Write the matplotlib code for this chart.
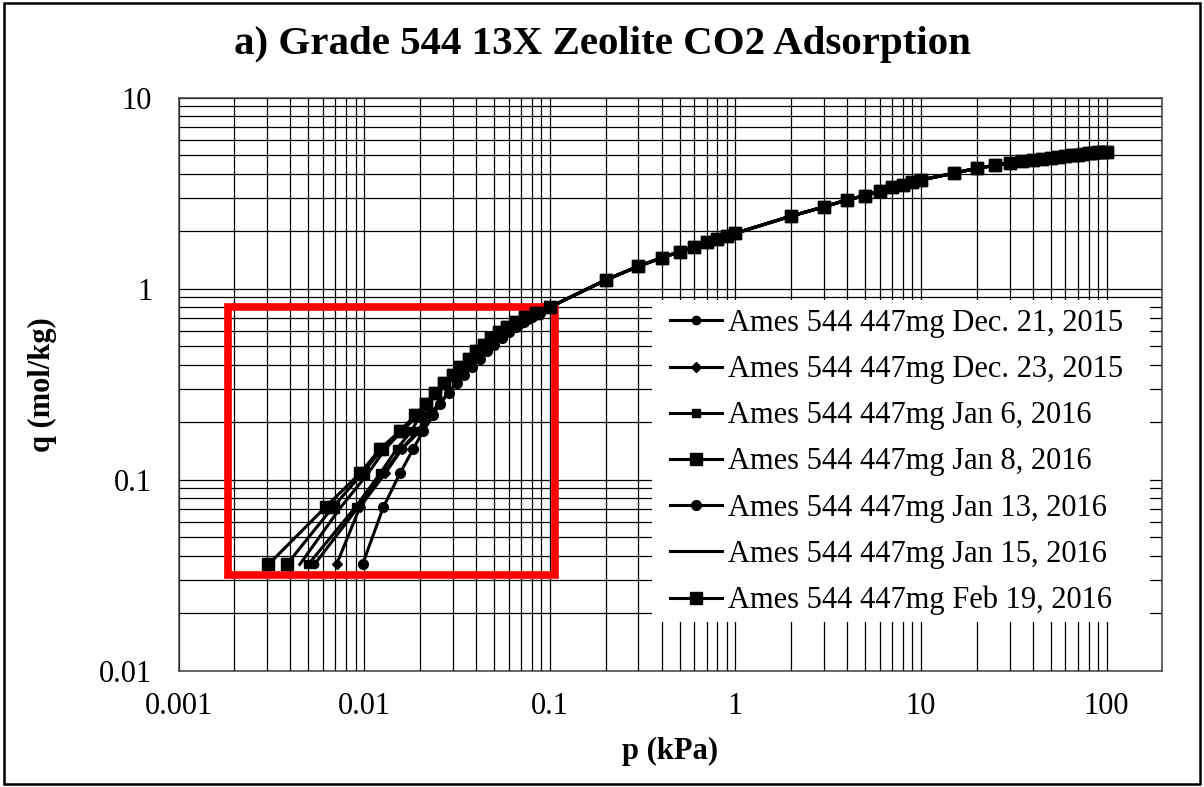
import matplotlib
matplotlib.use("Agg")
import matplotlib.pyplot as plt
from matplotlib.patches import Rectangle
from matplotlib.ticker import FuncFormatter, NullFormatter

plt.rcParams['font.family'] = ['Liberation Serif', 'DejaVu Serif']

# middle part, where the runs nearly overlap (kPa, mol/kg)
q_mid = [0.25, 0.285, 0.32, 0.355, 0.39, 0.43, 0.47, 0.51, 0.55, 0.59, 0.63, 0.67, 0.71, 0.75]
p_mid_a = [0.0215, 0.024, 0.027, 0.030, 0.033, 0.0365, 0.040, 0.044, 0.048, 0.053, 0.059, 0.066, 0.074, 0.084]
p_mid_b = [0.0255, 0.0285, 0.0315, 0.0345, 0.038, 0.042, 0.046, 0.050, 0.055, 0.060, 0.066, 0.073, 0.080, 0.089]

# high pressure part shared by every run
p_tail = [0.1, 0.2, 0.3, 0.4, 0.5, 0.6, 0.7, 0.8, 0.9, 1, 2, 3, 4, 5, 6, 7, 8, 9, 10,
          15, 20, 25, 30, 35, 40, 45, 50, 55, 60, 65, 70, 75, 80, 85, 90, 95, 100]
q_tail = [0.80, 1.11, 1.31, 1.45, 1.56, 1.66, 1.75, 1.83, 1.89, 1.95, 2.40, 2.68, 2.92, 3.07,
          3.25, 3.40, 3.51, 3.61, 3.71, 4.02, 4.27, 4.42, 4.55, 4.64, 4.72, 4.79, 4.85, 4.90,
          4.95, 5.00, 5.04, 5.08, 5.11, 5.14, 5.17, 5.20, 5.22]

# low pressure start of each run
q_low = [0.036, 0.072, 0.108, 0.145, 0.18, 0.217]
p_dec21 = [0.0054, 0.0093, 0.0127, 0.0159, 0.0195, 0.0220]
p_dec23 = [0.0071, 0.0095, 0.0130, 0.0160, 0.0200, 0.0225]
p_jan6 = [0.0050, 0.0090, 0.0122, 0.0150, 0.0180, 0.0200]
p_jan8 = [0.00383, 0.0068, 0.0098, 0.0125, 0.0158, 0.0190]
p_jan13 = [0.0098, 0.0127, 0.0156, 0.0184, 0.0208, 0.0236]
p_jan15 = [0.0045, 0.0075, 0.0105, 0.0130, 0.0160, 0.0195]
p_feb19 = [0.00305, 0.0062, 0.0095, 0.0122, 0.0156, 0.0188]

labels = ['Ames 544 447mg Dec. 21, 2015', 'Ames 544 447mg Dec. 23, 2015',
          'Ames 544 447mg Jan 6, 2016', 'Ames 544 447mg Jan 8, 2016',
          'Ames 544 447mg Jan 13, 2016', 'Ames 544 447mg Jan 15, 2016',
          'Ames 544 447mg Feb 19, 2016']
runs = [p_dec21, p_dec23, p_jan6, p_jan8, p_jan13, p_jan15, p_feb19]
mids = [p_mid_b, p_mid_b, p_mid_a, p_mid_a, p_mid_b, p_mid_a, p_mid_a]
markers = ['o', 'D', 's', 's', 'o', None, 's']
msizes = [6, 5, 6, 9, 7, 0, 9]

# red box around the low pressure region
box_p = (0.00185, 0.107)
box_q = (0.0317, 0.805)

fig = plt.figure(figsize=(12.04, 7.87), dpi=100)
ax = fig.add_axes([0.1483, 0.1478, 0.8172, 0.7281])

for p_low, p_mid, lab, m, ms in zip(runs, mids, labels, markers, msizes):
    ax.plot(p_low + p_mid + p_tail, q_low + q_mid + q_tail, color='black', lw=2.2,
            marker=m, ms=ms, label=lab, zorder=3)

ax.add_patch(Rectangle((box_p[0], box_q[0]), box_p[1] - box_p[0], box_q[1] - box_q[0],
                       fill=False, edgecolor='#ff0000', lw=5.5, joinstyle='miter', zorder=2))

ax.set_xscale('log')
ax.set_yscale('log')
ax.set_xlim(0.001, 200)
ax.set_ylim(0.01, 10)
ax.set_axisbelow(True)
ax.grid(which='both', color='black', lw=0.9)
fmt = FuncFormatter(lambda v, pos: '%g' % v)
ax.xaxis.set_major_formatter(fmt)
ax.yaxis.set_major_formatter(fmt)
ax.xaxis.set_minor_formatter(NullFormatter())
ax.yaxis.set_minor_formatter(NullFormatter())
ax.tick_params(which='both', length=0, labelsize=22)
ax.tick_params(axis='y', pad=19)
ax.tick_params(axis='x', pad=15)
for s in ax.spines.values():
    s.set_color('#404040')
    s.set_linewidth(1.1)

ax.set_xlabel('p (kPa)', fontsize=22, fontweight='bold', labelpad=12)
ax.set_ylabel('q (mol/kg)', fontsize=22, fontweight='bold', labelpad=30)
fig.suptitle('a) Grade 544 13X Zeolite CO2 Adsorption', fontsize=29.5, fontweight='bold',
             x=0.5, y=0.943, va='center')

# white area behind the legend
ax.add_patch(Rectangle((0.481, 0.085), 0.506, 0.562, transform=ax.transAxes,
                       facecolor='white', edgecolor='none', zorder=4))
ax.legend(loc='upper left', bbox_to_anchor=(0.4995, 0.631), frameon=False, fontsize=22,
          borderpad=0, borderaxespad=0, handlelength=1.7, handletextpad=0.2,
          labelspacing=0.56)

fig.patches.append(Rectangle((0.003, 0.004), 0.994, 0.992, transform=fig.transFigure,
                             fill=False, edgecolor='black', lw=1.8))

fig.savefig('out.png', dpi=100)
